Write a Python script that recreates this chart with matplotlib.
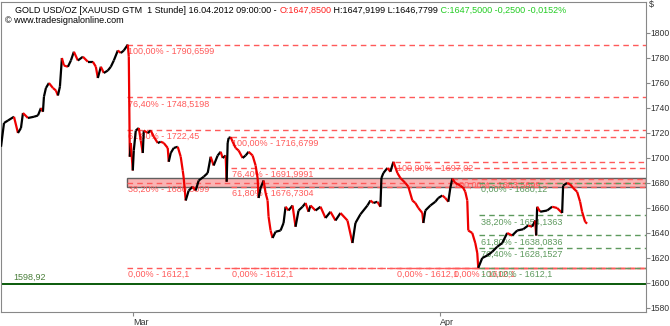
import numpy as np
import matplotlib
matplotlib.use("Agg")
import matplotlib.pyplot as plt
from matplotlib.collections import LineCollection
from matplotlib.patches import Rectangle

plt.rcParams['font.family'] = ['Liberation Sans', 'DejaVu Sans']

# hourly price path (bar position, price)
bar = [0, 3, 7, 13, 17, 20, 22, 27, 33, 37, 40, 42, 43, 45, 48, 52, 55, 57, 59, 61,
       63, 67, 70, 73, 77, 82, 87, 92, 95, 97, 100, 103, 107, 110, 113, 117, 120, 123, 127, 128,
       129, 130, 132, 133, 135, 138, 140, 142, 143, 147, 150, 153, 157, 160, 163, 167, 168, 170, 173, 177,
       180, 182, 183, 185, 188, 192, 195, 198, 203, 207, 210, 213, 217, 220, 222, 225, 226, 227, 228, 230,
       232, 235, 238, 242, 245, 248, 252, 255, 257, 258, 260, 263, 265, 267, 268, 270, 272, 275, 280, 283,
       285, 288, 292, 295, 298, 302, 305, 308, 310, 315, 320, 325, 330, 335, 340, 347, 352, 355, 360, 367,
       370, 373, 377, 380, 381, 383, 387, 390, 393, 397, 400, 405, 408, 412, 415, 418, 422, 423, 425, 430,
       435, 438, 442, 445, 448, 450, 452, 455, 460, 463, 465, 467, 468, 472, 475, 477, 478, 482, 487, 492,
       497, 502, 507, 512, 517, 523, 528, 532, 535, 536, 537, 540, 547, 552, 557, 562, 563, 567, 570, 573,
       577, 580, 582, 585, 587]
price = [1709, 1728, 1730, 1733, 1720, 1724, 1736, 1732, 1733, 1734, 1740, 1737, 1749, 1756, 1760, 1756, 1754, 1750, 1757, 1780,
         1774, 1773, 1778, 1785, 1778, 1781, 1777, 1777, 1773, 1764, 1773, 1768, 1770, 1773, 1778, 1786, 1784, 1786, 1790.7, 1781,
         1701, 1712, 1690, 1706, 1722, 1724, 1714, 1704, 1722, 1720, 1722, 1717, 1712, 1713, 1712, 1708, 1697, 1704, 1708, 1709,
         1701, 1690, 1684, 1666, 1674, 1677, 1674, 1682, 1685, 1688, 1701, 1694, 1702, 1705, 1700, 1702, 1681, 1712, 1716, 1716.7,
         1713, 1708, 1706, 1700, 1702, 1705, 1702, 1694, 1684, 1668, 1676, 1682, 1672, 1666, 1653, 1642, 1636, 1641, 1642, 1648,
         1661, 1658, 1662, 1645, 1658, 1661, 1664, 1657, 1662, 1658, 1661, 1652, 1657, 1650, 1656, 1650, 1632, 1648, 1655, 1662,
         1666, 1664, 1665, 1661, 1684, 1688, 1692, 1689, 1697, 1688, 1684, 1680, 1677, 1666, 1664, 1660, 1656, 1648, 1658, 1662,
         1665, 1668, 1670, 1668, 1665, 1676, 1683.5, 1680, 1678, 1676, 1673, 1666, 1642, 1640, 1632, 1624, 1612.1, 1620, 1622, 1625,
         1629, 1632, 1640, 1638, 1642, 1643, 1646, 1645, 1650, 1638, 1661, 1657, 1658, 1661, 1660, 1656, 1678, 1680, 1679, 1676,
         1673, 1665, 1657, 1649, 1647.5]

# Fibonacci retracement levels
red_start = [126, 126, 126, 126, 126, 230, 230, 230, 230, 395, 395, 452, 452]
red_price = [1790.6599, 1748.5198, 1722.45, 1680.3099, 1612.1, 1716.6799, 1691.9991, 1676.7304, 1612.1,
             1697.02, 1612.1, 1683.5699, 1612.1]
red_label = ["100,00% - 1790,6599", "76,40% - 1748,5198", "61,80% - 1722,45", "38,20% - 1680,3099",
             "0,00% - 1612,1", "100,00% - 1716,6799", "76,40% - 1691,9991", "61,80% - 1676,7304",
             "0,00% - 1612,1", "100,00% - 1697,02", "0,00% - 1612,1", "100,00% - 1683,5699", "0,00% - 1612,1"]
green_start = 479
green_price = [1680.12, 1654.1363, 1638.0836, 1628.1527, 1612.1]
green_label = ["0,00% - 1680,12", "38,20% - 1654,1363", "61,80% - 1638,0836", "76,40% - 1628,1527",
               "100,00% - 1612,1"]

zone_start, zone_low, zone_high = 126, 1677.1, 1684.2
support = 1598.92
x_max = 646
yticks = [1580, 1600, 1620, 1640, 1660, 1680, 1700, 1720, 1740, 1760, 1780, 1800]
month_pos = [132, 440]
month_names = ["Mar", "Apr"]

RED = "#ff5a5a"
GREEN = "#5e9a5e"

fig = plt.figure(figsize=(6.7, 3.26), dpi=100)
ax = fig.add_axes([1 / 670, 14 / 326, 645 / 670, 310 / 326])
ax.set_xlim(0, x_max)
ax.set_ylim(1576.8, 1824.8)

# zone
ax.add_patch(Rectangle((zone_start, zone_low), x_max - zone_start, zone_high - zone_low,
                       facecolor="#f9b4b4", edgecolor="#606060", lw=1, zorder=1))

# fib lines and labels
for s, p, lab in zip(red_start, red_price, red_label):
    ax.hlines(p, s, x_max, colors=RED, linestyles=(0, (4, 3)), lw=1, zorder=2)
    ax.annotate(lab, (s, p), xytext=(1, -1.5), textcoords="offset points",
                ha="left", va="top", fontsize=6.5, color=RED, zorder=2)
for p, lab in zip(green_price, green_label):
    ax.hlines(p, green_start, x_max, colors=GREEN, linestyles=(0, (4, 3)), lw=1, zorder=2)
    ax.annotate(lab, (green_start, p), xytext=(1, -1.5), textcoords="offset points",
                ha="left", va="top", fontsize=6.5, color=GREEN, zorder=2)

ax.axhline(support, color="#0a5a0a", lw=1.4, zorder=2)
ax.annotate("1598,92", (12, support), xytext=(0, 2), textcoords="offset points",
            ha="left", va="bottom", fontsize=6.5, color="#4a7f3a")

# price line, black when rising, red when falling
pts = np.column_stack([bar, price])
segs = np.stack([pts[:-1], pts[1:]], axis=1)
cols = ["black" if b >= a else "#ee0000" for a, b in zip(price[:-1], price[1:])]
ax.add_collection(LineCollection(segs, colors=cols, linewidths=1.6, zorder=3))

# axes styling
for sp in ax.spines.values():
    sp.set_color("#888888")
ax.yaxis.tick_right()
ax.set_yticks(yticks)
ax.set_yticklabels([str(t) for t in yticks])
ax.tick_params(axis="y", length=3, width=0.8, color="#888888", labelsize=6.2,
               labelcolor="#333333", pad=0.5)
ax.set_xticks(month_pos)
ax.set_xticklabels(month_names, ha="left")
ax.tick_params(axis="x", length=3, width=0.8, color="#888888", labelsize=6.5,
               labelcolor="#333333", pad=1)
fig.text(649 / 670, 1 - 5 / 326, "$", fontsize=6.5, color="#333333", va="center", ha="left")

# header
t = ax.text(14 / 645, 1 - 4 / 310, "GOLD USD/OZ [XAUUSD GTM  1 Stunde] 16.04.2012 09:00:00 - ",
            transform=ax.transAxes, fontsize=6.5, va="top", ha="left")
parts = [("O:1647,8500", "#ff2020"), (" H:1647,9199 L:1646,7799", "black"),
         (" C:1647,5000 -0,2500 -0,0152%", "#22cc22")]
prev = t
for txt, c in parts:
    prev = ax.annotate(txt, xy=(1, 0), xycoords=prev, ha="left", va="bottom",
                       fontsize=6.5, color=c)
ax.text(4 / 645, 1 - 14 / 310, "\u00a9 www.tradesignalonline.com", transform=ax.transAxes,
        fontsize=6.5, va="top", ha="left")

fig.savefig("out.png", dpi=100)
